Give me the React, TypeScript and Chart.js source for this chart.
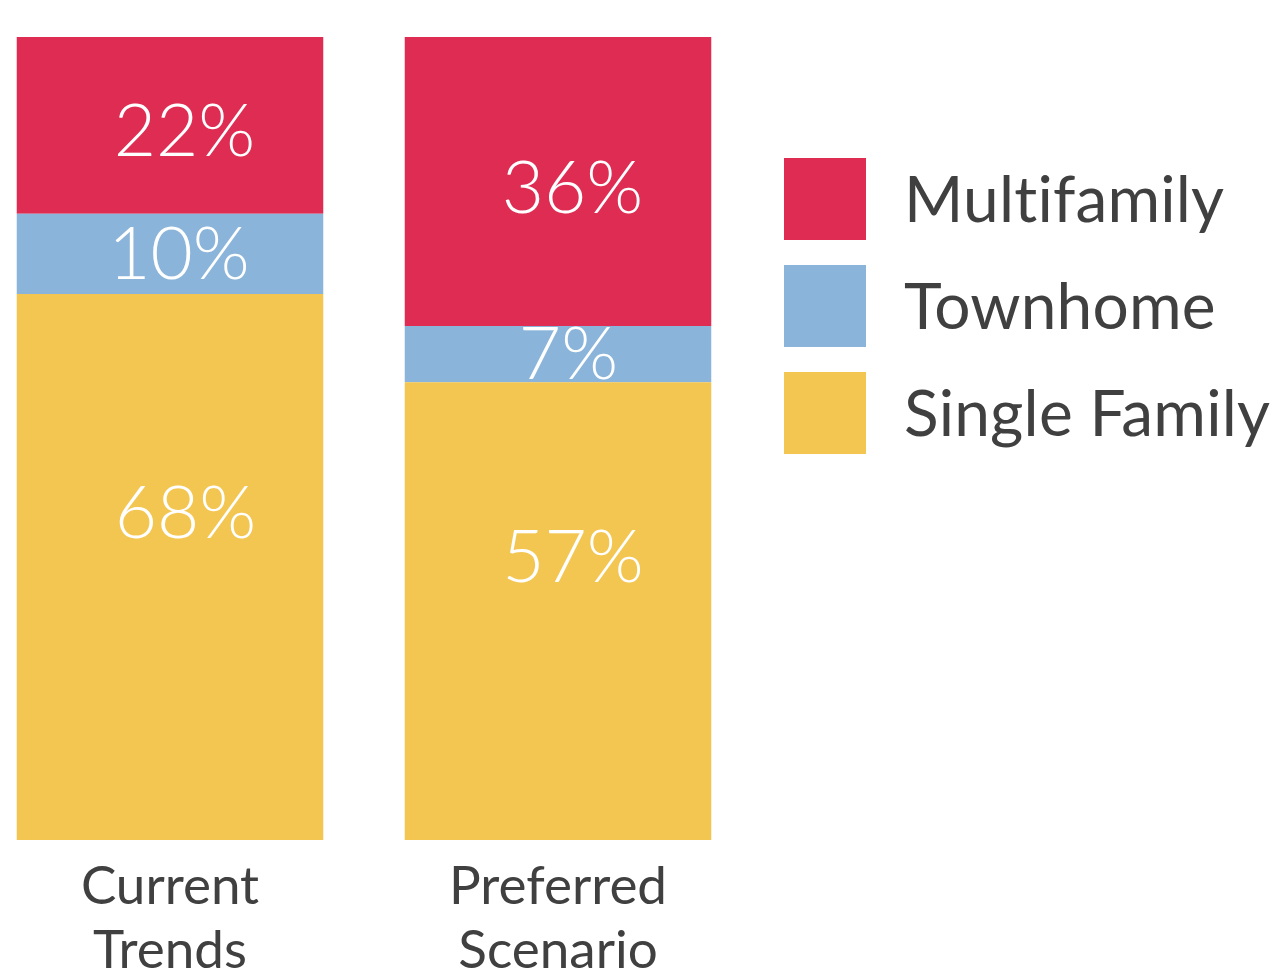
import React, { useEffect, useRef } from "react";
import { Chart, registerables } from "chart.js";

Chart.register(...registerables);

// ---- data ----
const categories: string[][] = [["Current", "Trends"], ["Preferred", "Scenario"]];
const seriesNames: string[] = ["Single Family", "Townhome", "Multifamily"];
const singleFamily: number[] = [68, 57];
const townhome: number[] = [10, 7];
const multifamily: number[] = [22, 36];

// ---- styles ----
const seriesColors = ["#F3C651", "#8AB4D9", "#DF2C53"];
const TEXT = "#404040";
const FONT = "Lato, 'Noto Sans', sans-serif";
const CANVAS_W = 1286;
const CANVAS_H = 1000;
const labelOffsets = [
  { dx: 16, dy: -55 },
  { dx: 11, dy: -1 },
  { dx: 15, dy: 5 },
];
const legendStyle = { x: 784, y: 158, box: 82, gap: 107, textX: 904, size: 64 };

const valueLabelPlugin = {
  id: "valueLabels",
  afterDraw(chart: any) {
    const ctx = chart.ctx as CanvasRenderingContext2D;
    ctx.save();
    ctx.font = `300 73px ${FONT}`;
    ctx.fillStyle = "#ffffff";
    ctx.textAlign = "left";
    ctx.textBaseline = "alphabetic";
    chart.data.datasets.forEach((ds: any, di: number) => {
      const meta = chart.getDatasetMeta(di);
      const off = labelOffsets[di] || { dx: 0, dy: 0 };
      meta.data.forEach((el: any, i: number) => {
        const { x, y, base } = el.getProps(["x", "y", "base"], true);
        const text = `${ds.data[i]}%`;
        const m = ctx.measureText(text);
        const inkW = m.actualBoundingBoxLeft + m.actualBoundingBoxRight;
        const inkH = m.actualBoundingBoxAscent + m.actualBoundingBoxDescent;
        const cx = x + off.dx;
        const cy = (y + base) / 2 + off.dy;
        const tx = cx - inkW / 2 + m.actualBoundingBoxLeft;
        const ty = cy - inkH / 2 + m.actualBoundingBoxAscent;
        ctx.fillText(text, tx, ty);
      });
    });
    ctx.restore();
  },
};

const legendPlugin = {
  id: "sideLegend",
  afterDraw(chart: any) {
    const ctx = chart.ctx as any;
    const ds = chart.data.datasets;
    ctx.save();
    ctx.font = `400 ${legendStyle.size}px ${FONT}`;
    ctx.textAlign = "left";
    ctx.textBaseline = "alphabetic";
    ctx.letterSpacing = "0.2px";
    const capH = ctx.measureText("H").actualBoundingBoxAscent;
    const order = ds.map((_: any, i: number) => i).reverse();
    order.forEach((di: number, k: number) => {
      const top = legendStyle.y + k * legendStyle.gap;
      ctx.fillStyle = ds[di].backgroundColor;
      ctx.fillRect(legendStyle.x, top, legendStyle.box, legendStyle.box);
      ctx.fillStyle = TEXT;
      ctx.fillText(ds[di].label, legendStyle.textX, top + legendStyle.box / 2 + capH / 2);
    });
    ctx.restore();
  },
};

export default function App() {
  const ref = useRef<HTMLCanvasElement | null>(null);

  useEffect(() => {
    if (!ref.current) return;
    const values = [singleFamily, townhome, multifamily];
    const chart = new Chart(ref.current, {
      type: "bar",
      data: {
        labels: categories as any,
        datasets: seriesNames.map((name, i) => ({
          label: name,
          data: values[i],
          backgroundColor: seriesColors[i],
          borderWidth: 0,
          categoryPercentage: 1,
          barPercentage: 0.79,
          clip: false as any,
        })),
      },
      options: {
        animation: false,
        responsive: false,
        maintainAspectRatio: false,
        layout: { padding: { left: 170, right: CANVAS_W - 558, top: 37, bottom: 2 } },
        plugins: {
          legend: { display: false },
          tooltip: { enabled: false },
        },
        scales: {
          x: {
            stacked: true,
            offset: false,
            grid: { display: false, drawTicks: false },
            border: { display: false },
            ticks: {
              color: TEXT,
              padding: 15,
              maxRotation: 0,
              autoSkip: false,
              font: { family: FONT, size: 53, weight: "400", lineHeight: "64px" } as any,
            },
          },
          y: {
            stacked: true,
            display: false,
            min: 0,
            max: 100,
          },
        },
      },
      plugins: [valueLabelPlugin, legendPlugin],
    });
    return () => chart.destroy();
  }, []);

  return (
    <div
      style={{
        position: "fixed",
        left: 0,
        top: 0,
        width: CANVAS_W,
        height: 970,
        overflow: "hidden",
        background: "#ffffff",
      }}
    >
      <canvas
        ref={ref}
        width={CANVAS_W}
        height={CANVAS_H}
        style={{ width: CANVAS_W, height: CANVAS_H, display: "block" }}
      />
    </div>
  );
}
